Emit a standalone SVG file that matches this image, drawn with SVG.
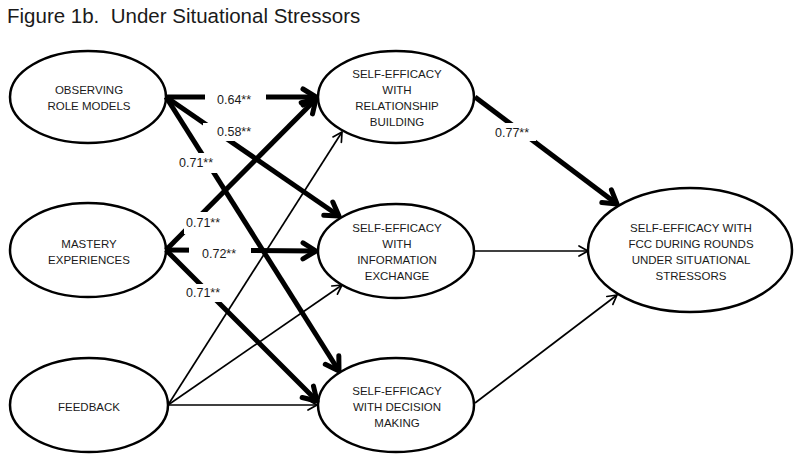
<svg xmlns="http://www.w3.org/2000/svg" width="800" height="461" viewBox="0 0 800 461">
<defs>
<style>
.node ellipse{fill:#fff;stroke:#000;stroke-width:2.5}
.node text{font-family:"Liberation Sans",Arial,sans-serif;font-size:11.5px;fill:#1a1a1a;text-anchor:middle}
.thick{stroke:#000;stroke-width:5;fill:none;marker-end:url(#ahThick)}
.thin{stroke:#000;stroke-width:1.7;fill:none;marker-end:url(#ahThin)}
.lbl text{font-family:"Liberation Sans",Arial,sans-serif;font-size:12.5px;fill:#1a1a1a}
.lbl rect{fill:#fff}
.title{font-family:"Liberation Sans",Arial,sans-serif;font-size:20.5px;fill:#1a1a1a}
</style>
<marker id="ahThick" markerUnits="userSpaceOnUse" orient="auto" overflow="visible" markerWidth="1" markerHeight="1">
<path d="M-13,-8 L0,0 L-13,8" fill="none" stroke="#000" stroke-width="5" stroke-linecap="round" stroke-linejoin="round"/>
</marker>
<marker id="ahThin" markerUnits="userSpaceOnUse" orient="auto" overflow="visible" markerWidth="1" markerHeight="1">
<path d="M-9,-5 L0,0 L-9,5" fill="none" stroke="#000" stroke-width="1.7" stroke-linecap="round" stroke-linejoin="round"/>
</marker>
</defs>
<rect width="800" height="461" fill="#fff"/>
<text class="title" x="7" y="23" xml:space="preserve">Figure 1b.  Under Situational Stressors</text>

<g id="observing" class="node">
<ellipse cx="88" cy="97" rx="78" ry="46"/>
<text x="89" y="94">OBSERVING</text>
<text x="89" y="110">ROLE MODELS</text>
</g>
<g id="mastery" class="node">
<ellipse cx="88" cy="250" rx="78" ry="47"/>
<text x="89" y="248">MASTERY</text>
<text x="89" y="264">EXPERIENCES</text>
</g>
<g id="feedback" class="node">
<ellipse cx="89" cy="405" rx="79" ry="47"/>
<text x="89" y="411">FEEDBACK</text>
</g>
<g id="relationship" class="node">
<ellipse cx="396" cy="97" rx="78" ry="46"/>
<text x="397" y="78">SELF-EFFICACY</text>
<text x="397" y="94">WITH</text>
<text x="397" y="110">RELATIONSHIP</text>
<text x="397" y="126">BUILDING</text>
</g>
<g id="information" class="node">
<ellipse cx="396" cy="251" rx="78" ry="47"/>
<text x="397" y="232">SELF-EFFICACY</text>
<text x="397" y="248">WITH</text>
<text x="397" y="264">INFORMATION</text>
<text x="397" y="280">EXCHANGE</text>
</g>
<g id="decision" class="node">
<ellipse cx="396" cy="405" rx="78" ry="47"/>
<text x="397" y="395">SELF-EFFICACY</text>
<text x="397" y="411">WITH DECISION</text>
<text x="397" y="427">MAKING</text>
</g>
<g id="outcome" class="node">
<ellipse cx="690" cy="250" rx="102" ry="62"/>
<text x="691" y="232">SELF-EFFICACY WITH</text>
<text x="691" y="248">FCC DURING ROUNDS</text>
<text x="691" y="264">UNDER SITUATIONAL</text>
<text x="691" y="280">STRESSORS</text>
</g>

<g id="connectors">
<line class="thick" x1="166" y1="97" x2="316" y2="97"/>
<line class="thick" x1="166" y1="97" x2="339" y2="216"/>
<line class="thick" x1="166" y1="97" x2="339" y2="371"/>
<line class="thick" x1="166" y1="250" x2="316" y2="99"/>
<line class="thick" x1="166" y1="250" x2="316" y2="251"/>
<line class="thick" x1="166" y1="250" x2="317" y2="401"/>
<line class="thick" x1="475" y1="97" x2="617" y2="204"/>
<line class="thin" x1="168" y1="405" x2="342" y2="132"/>
<line class="thin" x1="168" y1="405" x2="342" y2="285"/>
<line class="thin" x1="168" y1="405" x2="317" y2="405"/>
<line class="thin" x1="475" y1="251" x2="588" y2="251"/>
<line class="thin" x1="475" y1="403" x2="617" y2="295"/>
</g>

<g id="labels" class="lbl">
<rect x="205" y="90" width="61" height="18"/>
<text x="217" y="104">0.64**</text>
<rect x="203" y="123" width="48" height="18"/>
<text x="217" y="136">0.58**</text>
<rect x="177" y="153" width="41" height="20"/>
<text x="179" y="167">0.71**</text>
<rect x="184" y="212" width="39" height="22"/>
<text x="186" y="227">0.71**</text>
<rect x="189" y="244" width="62" height="18"/>
<text x="202" y="258">0.72**</text>
<rect x="184" y="284" width="40" height="18"/>
<text x="186" y="297">0.71**</text>
<rect x="493" y="123" width="43" height="18"/>
<text x="495" y="137">0.77**</text>
</g>
</svg>
